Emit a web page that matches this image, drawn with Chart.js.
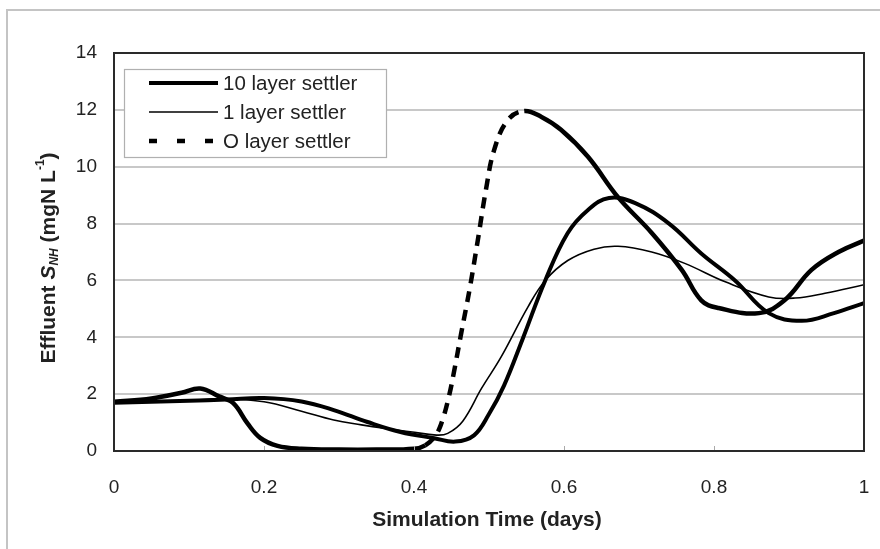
<!DOCTYPE html>
<html><head><meta charset="utf-8">
<script src="https://cdn.jsdelivr.net/npm/chart.js@4"></script>
<style>html,body{margin:0;padding:0;background:#fff}#wrap{width:880px;height:549px;position:relative}</style>
</head><body><div id="wrap"><canvas id="c" width="880" height="549"></canvas></div>
<script>
// ---- data ----
const seriesLabels = ['10 layer settler', '1 layer settler', 'O layer settler'];
const xTickValues = [0, 0.2, 0.4, 0.6, 0.8, 1];
const yTickValues = [0, 2, 4, 6, 8, 10, 12, 14];

const tenLayerT = [0, 0.05, 0.1, 0.15, 0.2, 0.25, 0.293, 0.338, 0.382, 0.427, 0.455, 0.48, 0.5, 0.52, 0.545, 0.575, 0.605, 0.632, 0.66, 0.695, 0.74, 0.783, 0.828, 0.873, 0.917, 0.96, 1.0];
const tenLayerY = [1.70, 1.73, 1.77, 1.81, 1.86, 1.74, 1.44, 1.02, 0.67, 0.45, 0.33, 0.55, 1.3, 2.3, 3.95, 6.0, 7.67, 8.48, 8.9, 8.72, 8.0, 6.95, 6.0, 4.85, 4.58, 4.85, 5.2];

const oneLayerT = [0, 0.1, 0.15, 0.2, 0.25, 0.293, 0.33, 0.36, 0.395, 0.43, 0.445, 0.465, 0.49, 0.516, 0.552, 0.575, 0.605, 0.64, 0.672, 0.717, 0.761, 0.815, 0.873, 0.908, 0.948, 1.0];
const oneLayerY = [1.70, 1.78, 1.84, 1.73, 1.40, 1.09, 0.92, 0.80, 0.68, 0.56, 0.62, 1.05, 2.2, 3.3, 5.07, 6.0, 6.7, 7.1, 7.2, 7.0, 6.6, 5.95, 5.42, 5.38, 5.55, 5.85];

const zeroLayerT = [0, 0.05, 0.09, 0.115, 0.14, 0.159, 0.178, 0.195, 0.218, 0.25, 0.3, 0.35, 0.4, 0.415, 0.429, 0.438, 0.447, 0.453, 0.463, 0.474, 0.485, 0.496, 0.507, 0.525, 0.547, 0.57, 0.596, 0.632, 0.672, 0.717, 0.757, 0.783, 0.806, 0.86, 0.894, 0.93, 0.966, 1.0];
const zeroLayerY = [1.73, 1.85, 2.05, 2.2, 1.92, 1.68, 0.97, 0.46, 0.18, 0.08, 0.05, 0.05, 0.08, 0.2, 0.56, 1.09, 1.97, 2.74, 4.15, 5.67, 7.4, 9.2, 10.6, 11.64, 11.96, 11.75, 11.3, 10.35, 8.93, 7.67, 6.37, 5.3, 5.03, 4.85, 5.3, 6.37, 7.0, 7.4];

const toPts = (t, y) => t.map((v, i) => ({x: v, y: y[i]}));

const FONT = '"Liberation Sans", Arial, sans-serif';
const TXT = '#222';

const dashRange = [0.41, 0.55];

const frame = {
  id: 'frame',
  beforeDraw(chart) {
    const c = chart.ctx;
    c.save();
    c.strokeStyle = '#c4c4c4'; c.lineWidth = 2;
    c.beginPath(); c.moveTo(7, 549); c.lineTo(7, 10); c.lineTo(880, 10); c.stroke();
    c.restore();
  },
  afterDraw(chart) {
    const c = chart.ctx, a = chart.chartArea;
    const xs = chart.scales.x;
    c.save();
    // inward x tick marks
    c.strokeStyle = '#aaa'; c.lineWidth = 1;
    xTickValues.forEach(v => {
      const px = Math.round(xs.getPixelForValue(v)) + 0.5;
      c.beginPath(); c.moveTo(px, a.bottom); c.lineTo(px, a.bottom - 5); c.stroke();
    });
    // plot box
    c.strokeStyle = '#2a2a2a'; c.lineWidth = 2;
    c.strokeRect(a.left, a.top, a.right - a.left, a.bottom - a.top);

    // legend
    const lx = 124, ly = 69, lw = 262, lh = 88;
    c.fillStyle = '#fff'; c.fillRect(lx, ly, lw, lh);
    c.strokeStyle = '#b0b0b0'; c.lineWidth = 1.2;
    c.strokeRect(lx + 0.5, ly + 0.5, lw, lh);
    const rows = [83, 112, 141];
    chart.data.datasets.forEach((ds, i) => {
      const y = rows[i];
      c.strokeStyle = '#000';
      c.lineWidth = ds.borderWidth;
      if (i === 2) {
        c.setLineDash([8, 20]);
      } else c.setLineDash([]);
      c.beginPath(); c.moveTo(149, y); c.lineTo(218, y); c.stroke();
      c.setLineDash([]);
      c.fillStyle = TXT;
      c.font = '20.5px ' + FONT;
      c.textBaseline = 'middle'; c.textAlign = 'left';
      c.fillText(ds.label, 223, y + 1);
    });

    // x title
    c.fillStyle = TXT;
    c.font = 'bold 21px ' + FONT;
    c.textAlign = 'center'; c.textBaseline = 'middle';
    c.fillText('Simulation Time (days)', 487, 520);

    // y title with subscript / superscript
    const parts = [
      {t: 'Effluent ', f: 'bold 21px ' + FONT, dy: 0},
      {t: 'S', f: 'italic bold 21px ' + FONT, dy: 0},
      {t: 'NH', f: 'italic bold 12px ' + FONT, dy: 6},
      {t: ' (mgN L', f: 'bold 21px ' + FONT, dy: 0},
      {t: '-1', f: 'bold 12px ' + FONT, dy: -8},
      {t: ')', f: 'bold 21px ' + FONT, dy: 0}
    ];
    let total = 0;
    parts.forEach(p => { c.font = p.f; p.w = c.measureText(p.t).width; total += p.w; });
    c.translate(49, 258);
    c.rotate(-Math.PI / 2);
    c.textAlign = 'left'; c.textBaseline = 'middle';
    let x = -total / 2;
    parts.forEach(p => { c.font = p.f; c.fillText(p.t, x, p.dy); x += p.w; });
    c.restore();
  }
};

const lineBase = {borderColor: '#000', pointRadius: 0, tension: 0.4, fill: false, capBezierPoints: true};

new Chart(document.getElementById('c'), {
  type: 'line',
  data: {
    datasets: [
      Object.assign({label: seriesLabels[0], data: toPts(tenLayerT, tenLayerY), borderWidth: 4}, lineBase),
      Object.assign({label: seriesLabels[1], data: toPts(oneLayerT, oneLayerY), borderWidth: 1.6}, lineBase),
      Object.assign({label: seriesLabels[2], data: toPts(zeroLayerT, zeroLayerY), borderWidth: 4.5,
        segment: {borderDash: ctx => (ctx.p0.parsed.x >= dashRange[0] && ctx.p1.parsed.x <= dashRange[1]) ? [11, 8] : undefined}}, lineBase)
    ]
  },
  options: {
    responsive: false, animation: false,
    layout: {padding: {top: 53, right: 2, left: 0, bottom: 0}},
    plugins: {legend: {display: false}, tooltip: {enabled: false}},
    scales: {
      x: {
        type: 'linear', min: 0, max: 1,
        afterFit: s => { s.height = 98; s.paddingRight = 16; },
        afterBuildTicks: s => { s.ticks = xTickValues.map(v => ({value: v})); },
        grid: {display: false, drawTicks: false},
        border: {display: false},
        ticks: {padding: 25, color: TXT, font: {size: 19, family: FONT}, maxRotation: 0,
          callback: v => String(+(+v).toFixed(1))}
      },
      y: {
        min: 0, max: 14,
        afterFit: s => { s.width = 114; },
        afterBuildTicks: s => { s.ticks = yTickValues.map(v => ({value: v})); },
        grid: {color: '#c8c8c8', lineWidth: 2, drawTicks: false},
        border: {display: false},
        ticks: {padding: 17, color: TXT, font: {size: 19, family: FONT}}
      }
    }
  },
  plugins: [frame]
});
</script>
</body></html>
